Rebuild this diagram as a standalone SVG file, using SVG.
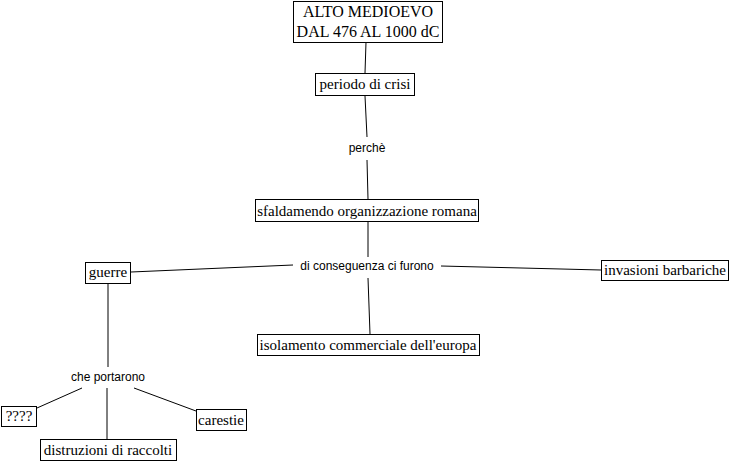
<svg xmlns="http://www.w3.org/2000/svg" width="735" height="462" viewBox="0 0 735 462">
<style>
.box{fill:#fff;stroke:#000;stroke-width:1}
.t{font-family:"Liberation Serif","Times New Roman",serif;font-size:15px;fill:#000;text-anchor:middle}
.big{font-size:16px}
.lbl{font-family:"Liberation Sans",Arial,sans-serif;font-size:12px;fill:#000;text-anchor:middle}
.c{stroke:#000;stroke-width:1;fill:none}
</style>
<rect width="735" height="462" fill="#fff"/>
<g id="connectors">
<line class="c" x1="366" y1="42" x2="365" y2="73"/>
<line class="c" x1="365" y1="96" x2="367" y2="137"/>
<line class="c" x1="367" y1="160" x2="368" y2="199"/>
<line class="c" x1="368" y1="222" x2="368" y2="257"/>
<line class="c" x1="131" y1="272" x2="293" y2="265"/>
<line class="c" x1="441" y1="266" x2="601" y2="270"/>
<line class="c" x1="368" y1="278" x2="370" y2="334"/>
<line class="c" x1="108" y1="284" x2="108" y2="367"/>
<line class="c" x1="82" y1="388" x2="37" y2="408"/>
<line class="c" x1="107" y1="388" x2="107" y2="439"/>
<line class="c" x1="134" y1="388" x2="196" y2="411"/>
</g>
<g id="n-alto">
<rect class="box" x="293.5" y="1.5" width="149" height="41"/>
<text class="t big" x="368" y="17">ALTO MEDIOEVO</text>
<text class="t big" x="368" y="37">DAL 476 AL 1000 dC</text>
</g>
<g id="n-periodo">
<rect class="box" x="315.5" y="73.5" width="99" height="22"/>
<text class="t" x="365" y="89">periodo di crisi</text>
</g>
<g id="l-perche"><text class="lbl" x="367" y="152">perchè</text></g>
<g id="n-sfald">
<rect class="box" x="255.5" y="199.5" width="223" height="22"/>
<text class="t" x="367" y="216">sfaldamendo organizzazione romana</text>
</g>
<g id="l-conseg"><text class="lbl" x="367" y="270">di conseguenza ci furono</text></g>
<g id="n-guerre">
<rect class="box" x="85.5" y="262.5" width="45" height="21"/>
<text class="t" x="108" y="277">guerre</text>
</g>
<g id="n-invasioni">
<rect class="box" x="601.5" y="260.5" width="127" height="20"/>
<text class="t" x="665" y="275">invasioni barbariche</text>
</g>
<g id="n-isolamento">
<rect class="box" x="257.5" y="334.5" width="222" height="21"/>
<text class="t" x="368" y="350">isolamento commerciale dell'europa</text>
</g>
<g id="l-portarono"><text class="lbl" x="108" y="381">che portarono</text></g>
<g id="n-q">
<rect class="box" x="1.5" y="406.5" width="35" height="20"/>
<text class="t" x="19" y="421">????</text>
</g>
<g id="n-distruzioni">
<rect class="box" x="40.5" y="439.5" width="136" height="21"/>
<text class="t" x="108" y="455">distruzioni di raccolti</text>
</g>
<g id="n-carestie">
<rect class="box" x="196.5" y="409.5" width="50" height="21"/>
<text class="t" x="221" y="425">carestie</text>
</g>
</svg>
